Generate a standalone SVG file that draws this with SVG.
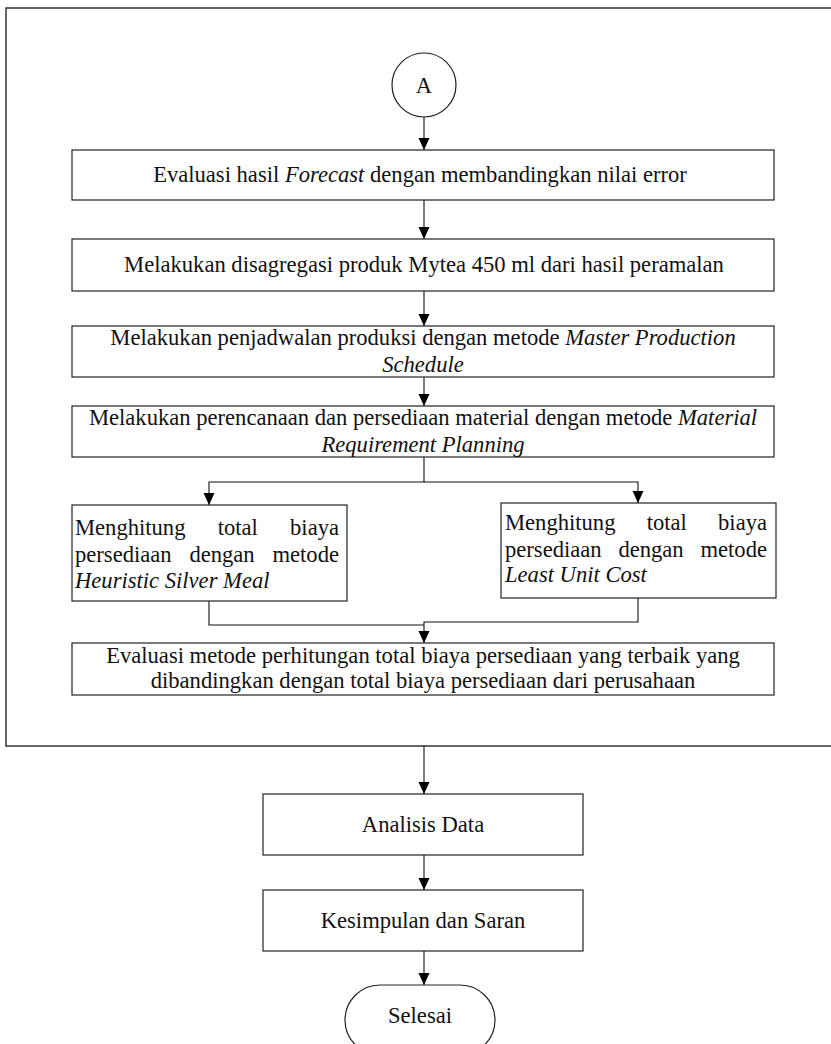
<svg xmlns="http://www.w3.org/2000/svg" width="831" height="1044" viewBox="0 0 831 1044">
<style>
.box{fill:#fff;stroke:#222;stroke-width:1.2}
.t{font-family:"Liberation Serif","Times New Roman",serif;font-size:22.6px;fill:#111}
.c{text-anchor:middle}
.e{text-anchor:end}
.i{font-style:italic}
.ln{fill:none;stroke:#111;stroke-width:1.1}
</style>
<defs>
<marker id="ah" markerUnits="userSpaceOnUse" markerWidth="12" markerHeight="12" viewBox="0 0 12 12" refX="12" refY="6" orient="auto">
<path d="M0,0.5 L12,6 L0,11.5 z" fill="#000"/>
</marker>
</defs>
<rect width="831" height="1044" fill="#fff"/>
<path id="frame" d="M831,8 H6 V746 H831" fill="none" stroke="#333" stroke-width="1.5"/>
<g id="connectors">
<path class="ln" d="M424,117 V150" marker-end="url(#ah)"/>
<path class="ln" d="M424,200 V239" marker-end="url(#ah)"/>
<path class="ln" d="M424,291 V326" marker-end="url(#ah)"/>
<path class="ln" d="M424,377 V406" marker-end="url(#ah)"/>
<path class="ln" d="M424,457 V482 H209 V505" marker-end="url(#ah)"/>
<path class="ln" d="M424,482 H638 V503" marker-end="url(#ah)"/>
<path class="ln" d="M209,601 V625 H424"/>
<path class="ln" d="M638,598 V622 H424 V643" marker-end="url(#ah)"/>
<path class="ln" d="M424,746 V794" marker-end="url(#ah)"/>
<path class="ln" d="M424,855 V890" marker-end="url(#ah)"/>
<path class="ln" d="M424,951 V985" marker-end="url(#ah)"/>
</g>
<g id="nodeA">
<circle cx="424" cy="85" r="32" class="box"/>
<text class="t c" x="424" y="93">A</text>
</g>
<g id="box1">
<rect class="box" x="72" y="150" width="702" height="50"/>
<text class="t c" x="420" y="182">Evaluasi hasil <tspan class="i">Forecast</tspan> dengan membandingkan nilai error</text>
</g>
<g id="box2">
<rect class="box" x="72" y="239" width="702" height="52"/>
<text class="t c" x="424" y="272">Melakukan disagregasi produk Mytea 450 ml dari hasil peramalan</text>
</g>
<g id="box3">
<rect class="box" x="72" y="326" width="702" height="51"/>
<text class="t c" x="423" y="345">Melakukan penjadwalan produksi dengan metode <tspan class="i">Master Production</tspan></text>
<text class="t c i" x="423" y="372">Schedule</text>
</g>
<g id="box4">
<rect class="box" x="72" y="406" width="702" height="51"/>
<text class="t c" x="423" y="425">Melakukan perencanaan dan persediaan material dengan metode <tspan class="i">Material</tspan></text>
<text class="t c i" x="423" y="452">Requirement Planning</text>
</g>
<g id="boxLeft">
<rect class="box" x="72" y="505" width="275" height="96"/>
<text class="t" x="75" y="535">Menghitung</text>
<text class="t" x="217.7" y="535">total</text>
<text class="t e" x="339" y="535">biaya</text>
<text class="t" x="75" y="562">persediaan</text>
<text class="t" x="189.4" y="562">dengan</text>
<text class="t e" x="339" y="562">metode</text>
<text class="t i" x="75" y="588">Heuristic Silver Meal</text>
</g>
<g id="boxRight">
<rect class="box" x="501" y="503" width="275" height="95"/>
<text class="t" x="505" y="530">Menghitung</text>
<text class="t" x="646.7" y="530">total</text>
<text class="t e" x="767" y="530">biaya</text>
<text class="t" x="505" y="557">persediaan</text>
<text class="t" x="618.4" y="557">dengan</text>
<text class="t e" x="767" y="557">metode</text>
<text class="t i" x="505" y="582">Least Unit Cost</text>
</g>
<g id="boxEval">
<rect class="box" x="72" y="643" width="702" height="52"/>
<text class="t c" x="423" y="663">Evaluasi metode perhitungan total biaya persediaan yang terbaik yang</text>
<text class="t c" x="423" y="688">dibandingkan dengan total biaya persediaan dari perusahaan</text>
</g>
<g id="boxAnalisis">
<rect class="box" x="263" y="794" width="320" height="61"/>
<text class="t c" x="423" y="832">Analisis Data</text>
</g>
<g id="boxKesimpulan">
<rect class="box" x="263" y="890" width="320" height="61"/>
<text class="t c" x="423" y="928">Kesimpulan dan Saran</text>
</g>
<g id="terminal">
<rect class="box" x="345" y="985" width="150" height="70" rx="35" ry="35"/>
<text class="t c" x="420" y="1023">Selesai</text>
</g>
</svg>
